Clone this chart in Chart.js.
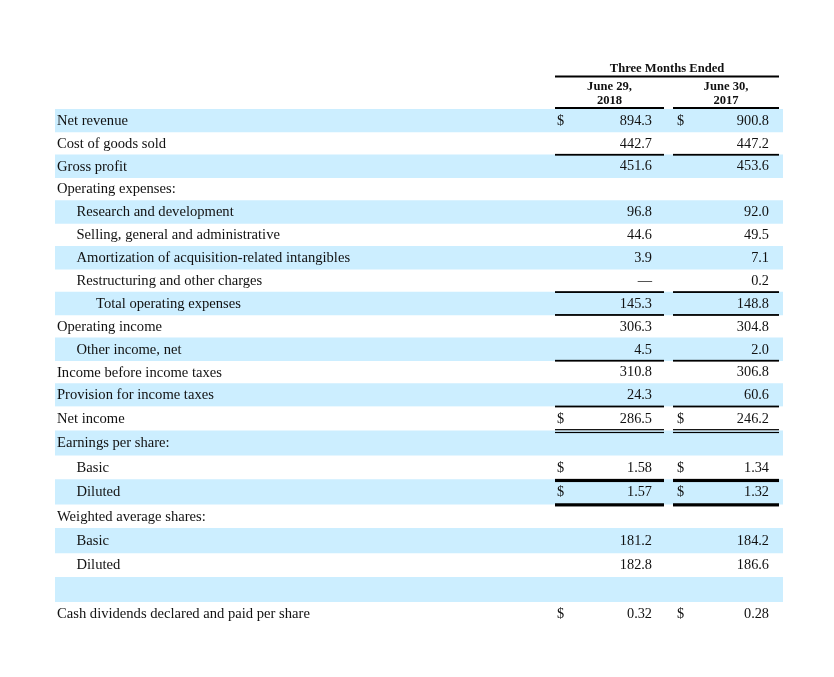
<!DOCTYPE html>
<html>
<head>
<meta charset="utf-8">
<script src="https://cdn.jsdelivr.net/npm/chart.js@4/dist/chart.umd.min.js"></script>
<style>
  html, body { margin: 0; padding: 0; background: #ffffff; }
  #wrap { position: relative; width: 834px; height: 677px; overflow: hidden; }
  canvas { position: absolute; left: 0; }
</style>
</head>
<body>
<div id="wrap">
  <canvas id="partA" width="834" height="412" style="top:0px"></canvas>
  <canvas id="partB" width="834" height="277" style="top:400px"></canvas>
</div>
<script>
// ---------------- DATA ----------------
const groupHeader = "Three Months Ended";
const periodHeaders = [["June 29,", "2018"], ["June 30,", "2017"]];

const rowLabels = [
  "Net revenue",
  "Cost of goods sold",
  "Gross profit",
  "Operating expenses:",
  "Research and development",
  "Selling, general and administrative",
  "Amortization of acquisition-related intangibles",
  "Restructuring and other charges",
  "Total operating expenses",
  "Operating income",
  "Other income, net",
  "Income before income taxes",
  "Provision for income taxes",
  "Net income",
  "Earnings per share:",
  "Basic",
  "Diluted",
  "Weighted average shares:",
  "Basic",
  "Diluted",
  "",
  "Cash dividends declared and paid per share"
];

const values2018 = [894.3, 442.7, 451.6, null, 96.8, 44.6, 3.9, 0, 145.3, 306.3, 4.5, 310.8, 24.3, 286.5, null, 1.58, 1.57, null, 181.2, 182.8, null, 0.32];
const values2017 = [900.8, 447.2, 453.6, null, 92.0, 49.5, 7.1, 0.2, 148.8, 304.8, 2.0, 306.8, 60.6, 246.2, null, 1.34, 1.32, null, 184.2, 186.6, null, 0.28];
const decimals   = [1, 1, 1, 0, 1, 1, 1, 1, 1, 1, 1, 1, 1, 1, 0, 2, 2, 0, 1, 1, 0, 2];
const dollarRows = [0, 13, 15, 16, 21];

// ---------------- LAYOUT / STYLE ----------------
const indentLevels = [0,0,0,0,1,1,1,1,2,0,1,0,0,0,0,1,1,0,1,1,0,0];
// rules drawn under a row: type 'single' | 'double' | 'thick'
const rulesBelow = { 1: 'single', 7: 'single', 8: 'single', 10: 'single', 12: 'single', 13: 'double', 15: 'thick', 16: 'thick' };
const SHADE = '#cceeff';
const INK = '#111111';
const FONT_LABEL = '14.6px "Liberation Serif", "Times New Roman", serif';
const FONT_VALUE = '14.3px "Liberation Serif", "Times New Roman", serif';
const FONT_HEAD = 'bold 12.6px "Liberation Serif", "Times New Roman", serif';
// x positions in x-scale units (scale spans 0..728)
const POS = {
  label: 2, indentStep: 19.5,
  cols: [
    { from: 500, to: 609, dollar: 502, right: 597 },
    { from: 618, to: 724, dollar: 622, right: 714 }
  ]
};

function fmt(v, d) {
  if (v === null || v === undefined) return '';
  if (v === 0) return '\u2014';
  return v.toFixed(d);
}

const tablePlugin = {
  id: 'finTable',
  afterDatasetsDraw(chart, args, opts) {
    const ctx = chart.ctx;
    const xs = chart.scales.x, ys = chart.scales.y;
    const area = chart.chartArea;
    const start = opts.start, end = opts.end;
    const n = end - start;
    ctx.save();
    ctx.fillStyle = INK;
    ctx.textBaseline = 'middle';

    const hline = (y, c, w) => {
      ctx.fillStyle = '#000';
      ctx.fillRect(xs.getPixelForValue(c.from), y - w / 2, xs.getPixelForValue(c.to) - xs.getPixelForValue(c.from), w);
    };

    for (let k = 0; k < n; k++) {
      const i = start + k;
      const cy = ys.getPixelForValue(k) + 0.5;
      ctx.fillStyle = INK;
      ctx.font = FONT_LABEL;
      ctx.textAlign = 'left';
      ctx.fillText(rowLabels[i], xs.getPixelForValue(POS.label + indentLevels[i] * POS.indentStep), cy);

      const vals = [values2018[i], values2017[i]];
      vals.forEach((v, c) => {
        const col = POS.cols[c];
        ctx.fillStyle = INK;
        if (dollarRows.includes(i)) {
          ctx.font = FONT_VALUE;
          ctx.textAlign = 'left';
          ctx.fillText('$', xs.getPixelForValue(col.dollar), cy);
        }
        const s = fmt(v, decimals[i]);
        if (s) {
          ctx.font = FONT_VALUE;
          ctx.textAlign = 'right';
          ctx.fillText(s, xs.getPixelForValue(col.right), cy);
        }
      });

      const rule = rulesBelow[i];
      if (rule) {
        const b = (k === n - 1) ? area.bottom : (ys.getPixelForValue(k) + ys.getPixelForValue(k + 1)) / 2;
        POS.cols.forEach(col => {
          if (rule === 'single') hline(b, col, 1.8);
          else if (rule === 'thick') hline(b + 0.8, col, 3.2);
          else if (rule === 'double') { hline(b - 1.2, col, 1.2); hline(b + 1.6, col, 1.2); }
        });
      }
    }

    if (opts.header) {
      const c0 = POS.cols[0], c1 = POS.cols[1];
      ctx.fillStyle = INK;
      ctx.font = FONT_HEAD;
      ctx.textAlign = 'center';
      const gx = (xs.getPixelForValue(c0.from) + xs.getPixelForValue(c1.to)) / 2;
      ctx.fillText(groupHeader, gx, area.top - 40.5);
      hline(area.top - 32.5, { from: c0.from, to: c1.to }, 2);
      POS.cols.forEach((col, c) => {
        const cx = (xs.getPixelForValue(col.from) + xs.getPixelForValue(col.to)) / 2;
        ctx.fillStyle = INK;
        ctx.font = FONT_HEAD;
        ctx.textAlign = 'center';
        ctx.fillText(periodHeaders[c][0], cx, area.top - 22);
        ctx.fillText(periodHeaders[c][1], cx, area.top - 8.5);
        hline(area.top - 1, col, 2);
      });
    }
    ctx.restore();
  }
};

function makePart(id, start, end, padding, header) {
  const labels = rowLabels.slice(start, end);
  const shade = labels.map((_, k) => ((start + k) % 2 === 0 ? [0, 728] : null));
  return new Chart(document.getElementById(id), {
    type: 'bar',
    data: {
      labels: labels,
      datasets: [{
        data: shade,
        backgroundColor: SHADE,
        borderWidth: 0,
        barPercentage: 1,
        categoryPercentage: 1
      }]
    },
    options: {
      indexAxis: 'y',
      responsive: false,
      animation: false,
      events: [],
      layout: { padding: padding },
      plugins: {
        legend: { display: false },
        tooltip: { enabled: false },
        title: { display: false },
        finTable: { start: start, end: end, header: header }
      },
      scales: {
        x: { type: 'linear', min: 0, max: 728, display: false },
        y: { type: 'category', display: false, offset: true }
      }
    },
    plugins: [tablePlugin]
  });
}

makePart('partA', 0, 13, { left: 55, right: 51, top: 109, bottom: 5.5 }, true);
makePart('partB', 13, 22, { left: 55, right: 51, top: 6.5, bottom: 51 }, false);
</script>
</body>
</html>
